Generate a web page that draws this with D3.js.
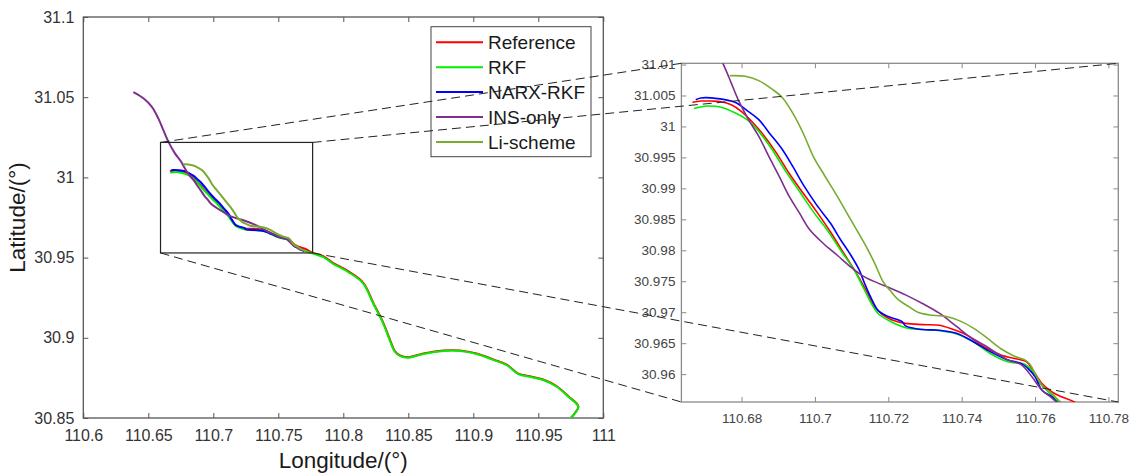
<!DOCTYPE html>
<html>
<head>
<meta charset="utf-8">
<script src="https://cdn.jsdelivr.net/npm/d3@7"></script>
<style>
  body { margin: 0; background: #fff; }
  svg { display: block; font-family: "Liberation Sans", Arial, sans-serif; }
</style>
</head>
<body>
<div id="chart"></div>
<script>
// ---- data (longitude, latitude) ----
const seriesNames = ["Reference", "RKF", "NARX-RKF", "INS-only", "Li-scheme"];
const seriesColors = ["#ff0000", "#00ee00", "#0000ff", "#7e2f8e", "#77ac30"];

const referenceLon = [110.6666, 110.6689, 110.6717, 110.6744, 110.6772, 110.6800, 110.6828, 110.6856, 110.6893, 110.6930, 110.6968, 110.7005, 110.7042, 110.7079, 110.7116, 110.7144, 110.7163, 110.7182, 110.7209, 110.7247, 110.7293, 110.7340, 110.7377, 110.7414, 110.7461, 110.7507, 110.7554, 110.7577, 110.7595, 110.7619, 110.7647, 110.7674, 110.7707, 110.7757, 110.7846, 110.7920, 110.8040, 110.8154, 110.8231, 110.8308, 110.8359, 110.8398, 110.8436, 110.8500, 110.8615, 110.8769, 110.8898, 110.9026, 110.9154, 110.9257, 110.9346, 110.9436, 110.9538, 110.9642, 110.9731, 110.9808, 110.9782, 110.9749];
const referenceLat = [31.0039, 31.0041, 31.0041, 31.0040, 31.0035, 31.0024, 31.0008, 30.9989, 30.9959, 30.9924, 30.9892, 30.9862, 30.9830, 30.9795, 30.9760, 30.9730, 30.9709, 30.9697, 30.9688, 30.9682, 30.9680, 30.9679, 30.9672, 30.9663, 30.9644, 30.9631, 30.9624, 30.9620, 30.9606, 30.9585, 30.9571, 30.9563, 30.9555, 30.9533, 30.9509, 30.9468, 30.9414, 30.9343, 30.9218, 30.9093, 30.8989, 30.8916, 30.8890, 30.8879, 30.8902, 30.8921, 30.8921, 30.8902, 30.8865, 30.8833, 30.8777, 30.8760, 30.8740, 30.8698, 30.8636, 30.8573, 30.8531, 30.8500];

const rkfLon = [110.6670, 110.6707, 110.6744, 110.6782, 110.6819, 110.6847, 110.6884, 110.6921, 110.6958, 110.6996, 110.7033, 110.7070, 110.7107, 110.7135, 110.7154, 110.7172, 110.7200, 110.7247, 110.7293, 110.7340, 110.7386, 110.7433, 110.7479, 110.7526, 110.7572, 110.7591, 110.7609, 110.7637, 110.7665, 110.7755, 110.7846, 110.7918, 110.8038, 110.8152, 110.8229, 110.8306, 110.8357, 110.8396, 110.8434, 110.8500, 110.8615, 110.8769, 110.8898, 110.9026, 110.9154, 110.9257, 110.9346, 110.9436, 110.9538, 110.9642, 110.9731, 110.9808, 110.9782, 110.9749];
const rkfLat = [31.0029, 31.0033, 31.0031, 31.0022, 31.0009, 30.9992, 30.9962, 30.9927, 30.9895, 30.9862, 30.9833, 30.9800, 30.9768, 30.9736, 30.9714, 30.9698, 30.9687, 30.9675, 30.9672, 30.9670, 30.9665, 30.9652, 30.9633, 30.9620, 30.9616, 30.9606, 30.9588, 30.9571, 30.9555, 30.9528, 30.9503, 30.9463, 30.9410, 30.9340, 30.9215, 30.9090, 30.8986, 30.8913, 30.8887, 30.8876, 30.8899, 30.8918, 30.8918, 30.8899, 30.8862, 30.8830, 30.8774, 30.8757, 30.8737, 30.8695, 30.8633, 30.8570, 30.8529, 30.8498];

const narxLon = [110.6675, 110.6689, 110.6735, 110.6782, 110.6819, 110.6847, 110.6875, 110.6912, 110.6940, 110.6968, 110.7005, 110.7042, 110.7070, 110.7098, 110.7121, 110.7135, 110.7154, 110.7172, 110.7200, 110.7237, 110.7247, 110.7293, 110.7340, 110.7386, 110.7433, 110.7479, 110.7526, 110.7563, 110.7581, 110.7600, 110.7619, 110.7647, 110.7660, 110.7700];
const narxLat = [31.0043, 31.0046, 31.0045, 31.0039, 31.0024, 31.0011, 30.9990, 30.9962, 30.9935, 30.9906, 30.9873, 30.9844, 30.9817, 30.9792, 30.9768, 30.9747, 30.9722, 30.9703, 30.9693, 30.9685, 30.9678, 30.9672, 30.9671, 30.9666, 30.9652, 30.9636, 30.9623, 30.9617, 30.9609, 30.9596, 30.9574, 30.9563, 30.9555, 30.9541];

const insLon = [110.6385, 110.6462, 110.6526, 110.6577, 110.6615, 110.6654, 110.6705, 110.6749, 110.6772, 110.6791, 110.6819, 110.6847, 110.6875, 110.6903, 110.6930, 110.6958, 110.6986, 110.7023, 110.7061, 110.7098, 110.7135, 110.7172, 110.7209, 110.7247, 110.7293, 110.7340, 110.7386, 110.7423, 110.7461, 110.7498, 110.7526, 110.7563, 110.7591, 110.7619, 110.7647, 110.7680];
const insLat = [31.0531, 31.0493, 31.0441, 31.0368, 31.0296, 31.0223, 31.0150, 31.0102, 31.0070, 31.0043, 31.0011, 30.9984, 30.9951, 30.9919, 30.9887, 30.9860, 30.9833, 30.9811, 30.9792, 30.9773, 30.9757, 30.9747, 30.9738, 30.9728, 30.9714, 30.9698, 30.9677, 30.9660, 30.9647, 30.9633, 30.9623, 30.9615, 30.9596, 30.9574, 30.9561, 30.9545];

const liLon = [110.6768, 110.6810, 110.6847, 110.6884, 110.6912, 110.6940, 110.6968, 110.6996, 110.7023, 110.7061, 110.7098, 110.7135, 110.7163, 110.7186, 110.7205, 110.7228, 110.7256, 110.7284, 110.7321, 110.7358, 110.7395, 110.7433, 110.7470, 110.7507, 110.7544, 110.7572, 110.7586, 110.7600, 110.7619, 110.7647, 110.7670, 110.7715];
const liLat = [31.0082, 31.0081, 31.0074, 31.0060, 31.0046, 31.0021, 30.9989, 30.9951, 30.9924, 30.9887, 30.9849, 30.9811, 30.9779, 30.9749, 30.9735, 30.9720, 30.9709, 30.9699, 30.9695, 30.9693, 30.9686, 30.9674, 30.9658, 30.9641, 30.9629, 30.9623, 30.9616, 30.9601, 30.9582, 30.9568, 30.9555, 30.9539];

// tick labels
const mainLonTicks = [110.6, 110.65, 110.7, 110.75, 110.8, 110.85, 110.9, 110.95, 111];
const mainLatTicks = [30.85, 30.9, 30.95, 31, 31.05, 31.1];
const insetLonTicks = [110.68, 110.7, 110.72, 110.74, 110.76, 110.78];
const insetLatTicks = [30.96, 30.965, 30.97, 30.975, 30.98, 30.985, 30.99, 30.995, 31, 31.005, 31.01];

// zoom window drawn on the main plot, and the inset limits
const zoomLon = [110.6594, 110.7764];
const zoomLat = [30.9529, 31.0218];
const insetLonRange = [110.6636, 110.7827];
const insetLatRange = [30.9555, 31.0102];

const allSeries = [
    [referenceLon, referenceLat],
    [rkfLon, rkfLat],
    [narxLon, narxLat],
    [insLon, insLat],
    [liLon, liLat]
].map(([lo, la], i) => ({
    name: seriesNames[i],
    color: seriesColors[i],
    points: lo.map((v, j) => ({ lon: v, lat: la[j] }))
}));

const W = 1134, H = 476;
const svg = d3.select("#chart").append("svg")
    .attr("width", W)
    .attr("height", H);

const defs = svg.append("defs");

// draws one axes box (box, inward ticks on 4 sides, labels) and returns the scales
function drawAxes(opt) {
    const x = d3.scaleLinear().domain(opt.xDomain).range([opt.left, opt.right]);
    const y = d3.scaleLinear().domain(opt.yDomain).range([opt.bottom, opt.top]);

    const g = svg.append("g");
    const fmt = d => String(d);

    g.append("g")
        .attr("transform", `translate(0,${opt.bottom})`)
        .call(d3.axisBottom(x).tickValues(opt.xTicks).tickFormat(fmt)
            .tickSizeInner(-opt.tick).tickSizeOuter(0).tickPadding(opt.xPad));
    g.append("g")
        .attr("transform", `translate(${opt.left},0)`)
        .call(d3.axisLeft(y).tickValues(opt.yTicks).tickFormat(fmt)
            .tickSizeInner(-opt.tick).tickSizeOuter(0).tickPadding(opt.yPad));
    g.append("g")
        .attr("transform", `translate(0,${opt.top})`)
        .call(d3.axisTop(x).tickValues(opt.xTicks).tickFormat("")
            .tickSizeInner(-opt.tick).tickSizeOuter(0));
    g.append("g")
        .attr("transform", `translate(${opt.right},0)`)
        .call(d3.axisRight(y).tickValues(opt.yTicks).tickFormat("")
            .tickSizeInner(-opt.tick).tickSizeOuter(0));

    g.selectAll(".domain").remove();
    g.selectAll(".tick line").attr("stroke", opt.axisColor);
    g.selectAll(".tick text")
        .attr("fill", opt.textColor)
        .style("font-size", opt.fontSize + "px")
        .style("font-family", '"Liberation Sans", Arial, sans-serif');

    g.append("rect")
        .attr("x", opt.left)
        .attr("y", opt.top)
        .attr("width", opt.right - opt.left)
        .attr("height", opt.bottom - opt.top)
        .attr("fill", "none")
        .attr("stroke", opt.axisColor)
        .attr("stroke-width", 1.3);

    defs.append("clipPath").attr("id", opt.id)
        .append("rect")
        .attr("x", opt.left)
        .attr("y", opt.top)
        .attr("width", opt.right - opt.left)
        .attr("height", opt.bottom - opt.top);

    return { x, y };
}

// ---- main plot ----
const main = drawAxes({
    id: "clipMain",
    left: 83.3, right: 603.3, top: 17, bottom: 418,
    xDomain: [110.6, 111], yDomain: [30.85, 31.1],
    xTicks: mainLonTicks, yTicks: mainLatTicks,
    tick: 5, xPad: 12, yPad: 9, fontSize: 16,
    axisColor: "#555", textColor: "#333"
});

const mainLine = d3.line()
    .x(d => main.x(d.lon))
    .y(d => main.y(d.lat))
    .curve(d3.curveCatmullRom);

svg.append("g")
    .attr("clip-path", "url(#clipMain)")
    .selectAll("path")
    .data(allSeries)
    .join("path")
    .attr("d", d => mainLine(d.points))
    .attr("fill", "none")
    .attr("stroke", d => d.color)
    .attr("stroke-width", 2)
    .attr("stroke-linejoin", "round");

// zoom rectangle
svg.append("rect")
    .attr("x", main.x(zoomLon[0]))
    .attr("y", main.y(zoomLat[1]))
    .attr("width", main.x(zoomLon[1]) - main.x(zoomLon[0]))
    .attr("height", main.y(zoomLat[0]) - main.y(zoomLat[1]))
    .attr("fill", "none")
    .attr("stroke", "#222")
    .attr("stroke-width", 1.2);

// axis titles
svg.append("text")
    .attr("x", (83.3 + 603.3) / 2)
    .attr("y", 468)
    .attr("text-anchor", "middle")
    .style("font-size", "22.5px")
    .attr("fill", "#1a1a1a")
    .text("Longitude/(°)");

svg.append("text")
    .attr("transform", `translate(25,${(17 + 418) / 2}) rotate(-90)`)
    .attr("text-anchor", "middle")
    .style("font-size", "22.5px")
    .attr("fill", "#1a1a1a")
    .text("Latitude/(°)");

// legend
const legend = svg.append("g");
legend.append("rect")
    .attr("x", 431).attr("y", 26.7)
    .attr("width", 160).attr("height", 130)
    .attr("fill", "#fff")
    .attr("stroke", "#444")
    .attr("stroke-width", 1);
const items = legend.selectAll(".item")
    .data(allSeries)
    .join("g")
    .attr("class", "item")
    .attr("transform", (d, i) => `translate(0,${42.3 + i * 24.9})`);
items.append("line")
    .attr("x1", 436).attr("x2", 483)
    .attr("stroke", d => d.color)
    .attr("stroke-width", 2);
items.append("text")
    .attr("x", 488)
    .attr("dy", "0.35em")
    .style("font-size", "19px")
    .attr("fill", "#1a1a1a")
    .text(d => d.name);

// ---- inset ----
const inset = drawAxes({
    id: "clipInset",
    left: 681.4, right: 1118.3, top: 63.3, bottom: 402,
    xDomain: insetLonRange, yDomain: insetLatRange,
    xTicks: insetLonTicks, yTicks: insetLatTicks,
    tick: 5, xPad: 11, yPad: 6, fontSize: 13.5,
    axisColor: "#8a8a8a", textColor: "#444"
});

const insetLine = d3.line()
    .x(d => inset.x(d.lon))
    .y(d => inset.y(d.lat))
    .curve(d3.curveCatmullRom);

svg.append("g")
    .attr("clip-path", "url(#clipInset)")
    .selectAll("path")
    .data(allSeries)
    .join("path")
    .attr("d", d => insetLine(d.points))
    .attr("fill", "none")
    .attr("stroke", d => d.color)
    .attr("stroke-width", 1.6)
    .attr("stroke-linejoin", "round");

// ---- dashed connectors: zoom-box corners to inset corners ----
const connectors = [
    [zoomLon[0], zoomLat[1], 0, 1],   // top-left -> inset top-left
    [zoomLon[1], zoomLat[1], 1, 1],   // top-right -> inset top-right
    [zoomLon[0], zoomLat[0], 0, 0],   // bottom-left -> inset bottom-left
    [zoomLon[1], zoomLat[0], 1, 0]    // bottom-right -> inset bottom-right
];
svg.append("g")
    .selectAll("line")
    .data(connectors)
    .join("line")
    .attr("x1", d => main.x(d[0]))
    .attr("y1", d => main.y(d[1]))
    .attr("x2", d => inset.x(insetLonRange[d[2]]))
    .attr("y2", d => inset.y(insetLatRange[d[3]]))
    .attr("stroke", "#222")
    .attr("stroke-width", 1)
    .attr("stroke-dasharray", "9,5");
</script>
</body>
</html>
